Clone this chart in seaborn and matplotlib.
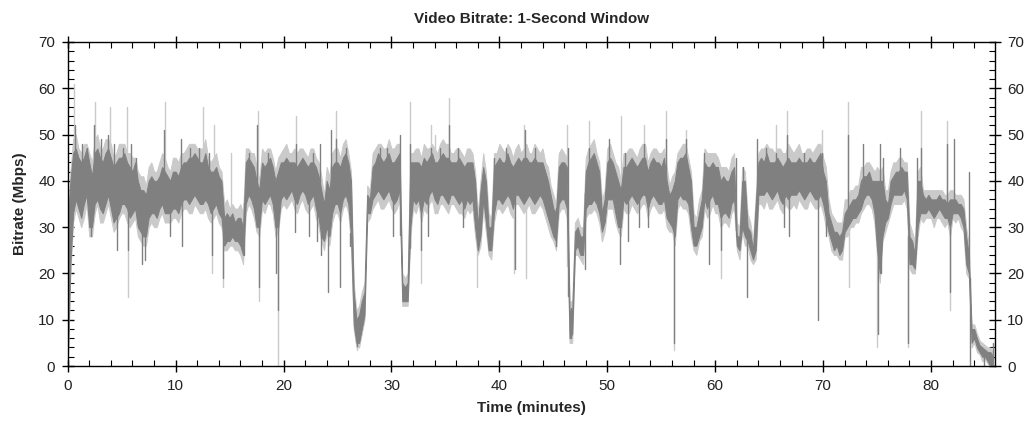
import numpy as np
import pandas as pd
import matplotlib
matplotlib.use("Agg")
import matplotlib.pyplot as plt
from matplotlib.ticker import MultipleLocator
import seaborn as sns

# ---------------- data ----------------
# readings on the whole half-minutes 0, 0.5, ... 85.5
step_min = 0.5
dark_lo = [
    0, 33, 34, 35, 30, 35, 34, 35, 34, 32,
    35, 34, 33, 30, 28, 32, 33, 34, 33, 33,
    34, 35, 36, 36, 36, 35, 35, 34, 33, 26,
    27, 27, 26, 35, 36, 30, 36, 36, 35, 30,
    37, 37, 36, 37, 37, 36, 34, 28, 30, 33,
    35, 36, 35, 9, 5, 11, 33, 37, 37, 37,
    36, 36, 14, 14, 36, 36, 36, 37, 36, 37,
    36, 37, 36, 36, 36, 36, 25, 36, 25, 33,
    36, 36, 36, 37, 36, 36, 36, 36, 36, 32,
    28, 35, 36, 6, 25, 24, 34, 35, 35, 29,
    36, 36, 30, 36, 36, 36, 36, 37, 36, 36,
    35, 32, 30, 36, 36, 35, 26, 28, 36, 36,
    35, 32, 33, 35, 26, 30, 27, 23, 37, 37,
    37, 37, 36, 37, 37, 37, 37, 37, 37, 36,
    35, 29, 25, 24, 29, 31, 32, 34, 37, 36,
    25, 28, 32, 37, 37, 38, 22, 21, 33, 33,
    33, 33, 33, 32, 33, 33, 30, 20, 6, 3,
    2, 0,
]
dark_hi = [
    30, 46, 45, 45, 44, 46, 45, 46, 45, 44,
    45, 44, 42, 40, 38, 40, 40, 41, 42, 40,
    42, 43, 44, 45, 45, 44, 43, 42, 41, 32,
    32, 31, 32, 44, 44, 40, 44, 44, 43, 42,
    44, 44, 44, 44, 44, 44, 43, 38, 40, 43,
    44, 45, 44, 16, 11, 16, 36, 44, 45, 45,
    44, 45, 18, 18, 44, 44, 45, 45, 44, 45,
    45, 44, 44, 44, 44, 44, 30, 43, 30, 43,
    45, 44, 44, 44, 44, 45, 44, 44, 44, 40,
    34, 43, 44, 12, 29, 28, 42, 45, 44, 33,
    44, 44, 40, 43, 44, 44, 44, 45, 44, 44,
    43, 40, 38, 44, 45, 43, 30, 33, 44, 43,
    43, 40, 40, 42, 28, 40, 30, 25, 44, 44,
    44, 44, 44, 44, 44, 44, 44, 44, 44, 45,
    42, 33, 29, 28, 33, 35, 36, 40, 41, 40,
    40, 40, 35, 41, 42, 42, 28, 24, 40, 36,
    36, 36, 36, 35, 36, 35, 34, 24, 8, 4.5,
    3.5, 3,
]
# readings in between, on 0.25, 0.75, ... 85.75
dark_lo_mid = [
    22, 36, 32, 37, 30, 36, 33, 37, 31, 33,
    35, 32, 34, 29, 28, 33, 32, 35, 33, 34,
    33, 36, 35, 37, 35, 36, 33, 35, 32, 27,
    28, 27, 24, 37, 34, 30, 35, 37, 30, 36,
    36, 38, 35, 38, 35, 37, 32, 27, 28, 35,
    33, 37, 28, 5, 8, 33, 36, 38, 36, 38,
    35, 38, 14, 30, 35, 33, 35, 38, 35, 37,
    35, 37, 35, 34, 35, 30, 28, 31, 25, 36,
    35, 37, 34, 37, 35, 37, 35, 37, 34, 30,
    27, 36, 34, 7, 26, 24, 35, 36, 33, 31,
    36, 33, 30, 35, 37, 35, 37, 34, 37, 35,
    36, 31, 28, 37, 36, 30, 26, 30, 34, 37,
    35, 33, 32, 36, 25, 28, 25, 25, 37, 38,
    36, 38, 35, 36, 37, 38, 36, 38, 36, 37,
    32, 27, 26, 25, 30, 32, 33, 36, 37, 33,
    20, 31, 35, 37, 37, 36, 22, 30, 33, 34,
    32, 34, 32, 30, 33, 32, 22, 5, 4, 2,
    1, 0,
]
dark_hi_mid = [
    40, 47, 44, 47, 41, 47, 44, 47, 43, 45,
    46, 43, 44, 38, 37, 41, 40, 43, 41, 42,
    41, 44, 45, 46, 44, 46, 42, 43, 40, 33,
    33, 32, 30, 45, 43, 38, 43, 45, 40, 44,
    45, 44, 43, 45, 43, 44, 41, 35, 38, 44,
    43, 46, 40, 10, 14, 37, 43, 46, 44, 46,
    44, 46, 17, 44, 44, 43, 44, 46, 44, 46,
    45, 44, 45, 43, 44, 40, 38, 40, 30, 44,
    44, 46, 43, 45, 45, 44, 45, 44, 42, 37,
    33, 44, 43, 12, 30, 28, 44, 46, 42, 36,
    45, 42, 38, 43, 45, 43, 45, 42, 45, 44,
    45, 37, 40, 45, 46, 40, 30, 36, 43, 44,
    43, 41, 40, 43, 28, 40, 29, 35, 45, 46,
    44, 45, 43, 45, 44, 45, 44, 45, 44, 46,
    40, 31, 29, 29, 34, 36, 37, 41, 42, 40,
    40, 36, 40, 42, 43, 42, 27, 40, 37, 37,
    36, 37, 36, 36, 36, 35, 28, 8, 6, 4,
    3, 2,
]
light_lo = [
    0, 31, 32, 32, 28, 33, 31, 33, 32, 30,
    33, 31, 31, 28, 26, 30, 30, 32, 31, 31,
    32, 33, 34, 33, 34, 33, 32, 32, 31, 25,
    26, 25, 24, 33, 34, 29, 34, 35, 33, 29,
    35, 35, 34, 35, 34, 34, 32, 27, 29, 31,
    33, 34, 33, 8, 4, 10, 32, 35, 34, 35,
    34, 34, 13, 13, 34, 35, 34, 35, 33, 35,
    34, 35, 34, 33, 34, 34, 24, 34, 24, 31,
    34, 34, 33, 35, 34, 34, 33, 34, 34, 30,
    27, 33, 34, 5, 24, 23, 32, 33, 33, 27,
    34, 34, 29, 34, 33, 34, 34, 35, 34, 34,
    33, 30, 29, 34, 34, 33, 25, 27, 34, 33,
    33, 30, 31, 33, 25, 29, 26, 22, 35, 34,
    34, 35, 34, 35, 34, 34, 35, 34, 35, 34,
    33, 28, 24, 23, 28, 30, 31, 33, 35, 34,
    24, 27, 31, 35, 35, 36, 21, 20, 32, 32,
    32, 32, 31, 31, 32, 32, 29, 19, 5, 2.5,
    1.5, 0,
]
light_hi = [
    32, 49, 47, 48, 46, 49, 47, 49, 48, 46,
    48, 46, 45, 42, 41, 43, 42, 44, 45, 42,
    45, 46, 47, 48, 47, 47, 45, 45, 43, 35,
    34, 34, 35, 47, 46, 43, 47, 47, 45, 45,
    47, 46, 47, 47, 46, 47, 45, 41, 43, 46,
    47, 48, 46, 18, 13, 18, 38, 47, 48, 47,
    47, 48, 20, 20, 46, 47, 48, 47, 47, 48,
    48, 46, 47, 46, 47, 46, 33, 46, 33, 46,
    48, 46, 47, 47, 46, 48, 46, 47, 47, 43,
    37, 46, 46, 14, 31, 30, 45, 48, 46, 36,
    47, 46, 43, 46, 47, 46, 47, 48, 46, 47,
    46, 43, 41, 46, 48, 45, 33, 36, 47, 46,
    46, 43, 43, 45, 31, 43, 33, 27, 46, 47,
    47, 46, 47, 46, 47, 47, 46, 47, 46, 48,
    45, 36, 32, 31, 36, 38, 39, 43, 44, 43,
    43, 43, 38, 44, 45, 44, 31, 27, 43, 38,
    38, 38, 38, 37, 38, 37, 36, 26, 9, 5.5,
    4.5, 4,
]
light_lo_mid = [
    20, 34, 30, 35, 28, 35, 31, 35, 29, 32,
    33, 30, 32, 27, 26, 31, 30, 33, 31, 32,
    31, 34, 33, 35, 33, 34, 31, 33, 30, 25,
    26, 25, 22, 35, 32, 28, 33, 35, 28, 34,
    34, 36, 33, 36, 33, 35, 30, 25, 26, 33,
    31, 35, 26, 4, 7, 31, 34, 36, 34, 36,
    33, 36, 13, 28, 33, 31, 33, 36, 33, 35,
    33, 35, 33, 32, 33, 28, 26, 29, 23, 34,
    33, 35, 32, 35, 33, 35, 33, 35, 32, 28,
    25, 34, 32, 5, 24, 22, 33, 34, 31, 29,
    34, 31, 28, 33, 35, 33, 35, 32, 35, 33,
    34, 29, 26, 35, 34, 28, 24, 28, 32, 35,
    33, 31, 30, 34, 23, 26, 23, 23, 35, 36,
    34, 36, 33, 34, 35, 36, 34, 36, 34, 35,
    30, 25, 24, 23, 28, 30, 31, 34, 35, 31,
    18, 29, 33, 35, 35, 34, 20, 28, 31, 32,
    30, 32, 30, 28, 31, 30, 20, 4, 3, 1,
    0.5, 0,
]
light_hi_mid = [
    42, 50, 46, 48, 44, 50, 47, 49, 45, 48,
    48, 46, 45, 41, 39, 44, 42, 46, 43, 45,
    44, 46, 48, 48, 47, 49, 44, 46, 42, 36,
    35, 34, 33, 47, 46, 40, 46, 47, 42, 46,
    48, 46, 46, 47, 45, 47, 44, 37, 41, 47,
    45, 49, 42, 12, 16, 39, 46, 48, 47, 49,
    47, 48, 19, 46, 47, 45, 47, 48, 46, 49,
    48, 46, 47, 45, 47, 42, 40, 42, 32, 46,
    47, 48, 45, 48, 47, 46, 48, 46, 44, 39,
    35, 47, 45, 14, 32, 30, 47, 49, 44, 38,
    48, 44, 40, 46, 47, 45, 48, 44, 47, 46,
    47, 39, 42, 47, 48, 42, 32, 38, 46, 46,
    45, 43, 42, 46, 30, 42, 31, 37, 47, 48,
    47, 47, 46, 48, 46, 48, 46, 47, 47, 48,
    43, 33, 31, 31, 36, 38, 39, 43, 44, 42,
    42, 38, 42, 44, 45, 44, 29, 42, 38, 38,
    38, 38, 37, 38, 37, 37, 30, 9, 7, 5,
    4, 3,
]
# single-second excursions of the dark trace: (minute, Mbps)
dark_spikes = [
    (0.65, 52), (1.3, 48), (1.8, 47), (2.4, 52), (3.1, 49), (3.7, 50),
    (4.3, 48), (5.1, 47), (5.9, 48), (6.3, 45), (8.96, 51), (10.5, 49),
    (11.3, 47), (12.2, 47), (13.1, 46), (16.8, 46), (17.57, 52), (18.6, 46),
    (21.2, 48), (22.7, 46), (23.4, 48), (24.4, 51), (24.9, 49), (25.8, 47),
    (28.9, 47), (29.6, 47), (30.75, 50), (31.7, 48), (33.7, 47), (34.5, 47),
    (35.3, 52), (36.2, 47), (39.5, 45), (40.6, 47), (42.35, 51), (43.3, 47),
    (46.4, 47), (48.3, 47), (50.2, 49), (51.6, 46), (53.4, 48), (55.4, 49),
    (57.3, 49), (59.0, 46), (61.9, 45), (62.6, 43), (63.85, 49), (64.7, 47),
    (65.6, 46), (66.66, 50), (68.2, 46), (69.85, 46), (72.3, 50), (73.7, 48),
    (75.3, 48), (75.5, 45), (77.1, 47), (78.7, 45), (79.1, 47), (81.5, 48),
    (82.1, 49), (83.5, 42), (85.7, 5),
    (2.2, 28), (4.6, 25), (5.6, 25), (6.9, 22), (7.2, 23), (9.5, 28),
    (10.6, 26), (13.4, 24), (14.4, 19), (16.3, 24), (17.75, 17), (19.3, 20),
    (19.45, 12), (21.1, 29), (22.34, 28), (23.1, 27), (23.5, 24), (24.1, 16),
    (25.2, 17), (26.2, 26), (26.8, 4.3), (30.1, 28), (32.7, 25), (33.4, 28),
    (36.66, 30), (38.0, 25), (41.45, 21), (45.2, 26), (46.6, 6), (47.97, 21),
    (49.5, 30), (51.2, 22), (51.9, 27), (52.9, 30), (53.8, 30), (56.15, 5),
    (59.4, 22), (60.5, 25), (62.9, 15), (66.4, 30), (66.8, 28), (69.56, 10),
    (70.3, 28), (75.05, 7), (75.4, 20), (77.9, 5), (81.8, 16), (83.6, 0),
    (84.9, 0), (85.4, 0.5),
]
# single-second excursions of the light trace: (minute, Mbps)
light_spikes = [
    (0.6, 61), (2.5, 57), (3.9, 56), (5.5, 56), (5.6, 15), (9.0, 57),
    (12.5, 56), (13.4, 20), (13.6, 52), (14.4, 17), (15.1, 46), (17.6, 55),
    (17.75, 14), (19.5, 0), (21.2, 54), (24.9, 55), (26.8, 3.5), (31.7, 57),
    (32.7, 18), (33.7, 52), (34.0, 50), (35.3, 58), (37.9, 17), (41.4, 20),
    (42.3, 52), (42.5, 19), (46.3, 52), (46.6, 5), (48.3, 53), (49.5, 27),
    (51.25, 54), (53.4, 52), (55.4, 55), (56.15, 3.5), (57.3, 51), (60.5, 19),
    (65.6, 52), (66.66, 55), (69.9, 51), (72.3, 57), (72.4, 17), (75.0, 4),
    (77.9, 4), (79.1, 55), (81.5, 53), (81.8, 12),
]
x_ticks = [0, 10, 20, 30, 40, 50, 60, 70, 80]
y_ticks = [0, 10, 20, 30, 40, 50, 60, 70]
title = "Video Bitrate: 1-Second Window"
x_label = "Time (minutes)"
y_label = "Bitrate (Mbps)"

DARK = "#808080"
LIGHT = "#cacaca"


def band_frame(lo, hi, lo_mid, hi_mid):
    t = np.arange(len(lo)) * step_min
    tm = t + step_min / 2
    return pd.DataFrame({"t": np.concatenate([t, t, tm, tm]),
                         "mbps": np.concatenate([lo, hi, lo_mid, hi_mid])})


def spike_frame(spikes, lo, hi):
    t = np.arange(len(lo)) * step_min
    mid = (np.asarray(lo, float) + np.asarray(hi, float)) / 2
    rows = []
    for i, (ts, v) in enumerate(spikes):
        rows.append((i, ts, np.interp(ts, t, mid)))
        rows.append((i, ts, v))
    return pd.DataFrame(rows, columns=["sid", "t", "mbps"])


# ---------------- style ----------------
sns.set_theme(style="white")
plt.rcParams["font.family"] = ["Liberation Sans", "DejaVu Sans"]

fig = plt.figure(figsize=(10.32, 4.25), dpi=100)
ax = fig.add_axes([0.0656, 0.1388, 0.8983, 0.7624])

layers = [
    (light_lo, light_hi, light_lo_mid, light_hi_mid, light_spikes, LIGHT, 1),
    (dark_lo, dark_hi, dark_lo_mid, dark_hi_mid, dark_spikes, DARK, 3),
]
for lo, hi, lo_m, hi_m, spikes, col, z in layers:
    sns.lineplot(data=band_frame(lo, hi, lo_m, hi_m), x="t", y="mbps", ax=ax,
                 color=col, linewidth=0, estimator="mean",
                 errorbar=("pi", 100), zorder=z,
                 err_kws={"alpha": 1.0, "linewidth": 0.7, "edgecolor": col,
                          "zorder": z})
    sns.lineplot(data=spike_frame(spikes, lo, hi), x="t", y="mbps",
                 units="sid", estimator=None, sort=False, ax=ax,
                 color=col, linewidth=1.0, zorder=z + 0.5)

ax.set_xlim(0, 85.9)
ax.set_ylim(0, 70)
ax.set_xticks(x_ticks)
ax.set_yticks(y_ticks)
ax.xaxis.set_minor_locator(MultipleLocator(2))
ax.yaxis.set_minor_locator(MultipleLocator(2))

for s in ax.spines.values():
    s.set_visible(True)
    s.set_color("black")
    s.set_linewidth(1.0)
    s.set_zorder(6)

ax.tick_params(axis="both", which="major", direction="inout", length=8,
               width=1, color="black", labelsize=11, labelcolor="#222222",
               top=True, right=True, bottom=True, left=True,
               labelright=True, labeltop=False, pad=5)
ax.tick_params(axis="both", which="minor", direction="in", length=4,
               width=0.8, color="black", top=True, right=True,
               bottom=True, left=True)

ax.set_title(title, fontsize=11, fontweight="bold", pad=14)
ax.set_xlabel(x_label, fontsize=11, fontweight="bold", labelpad=6)
ax.set_ylabel(y_label, fontsize=11, fontweight="bold", labelpad=8)

fig.savefig("out.png", dpi=100)
